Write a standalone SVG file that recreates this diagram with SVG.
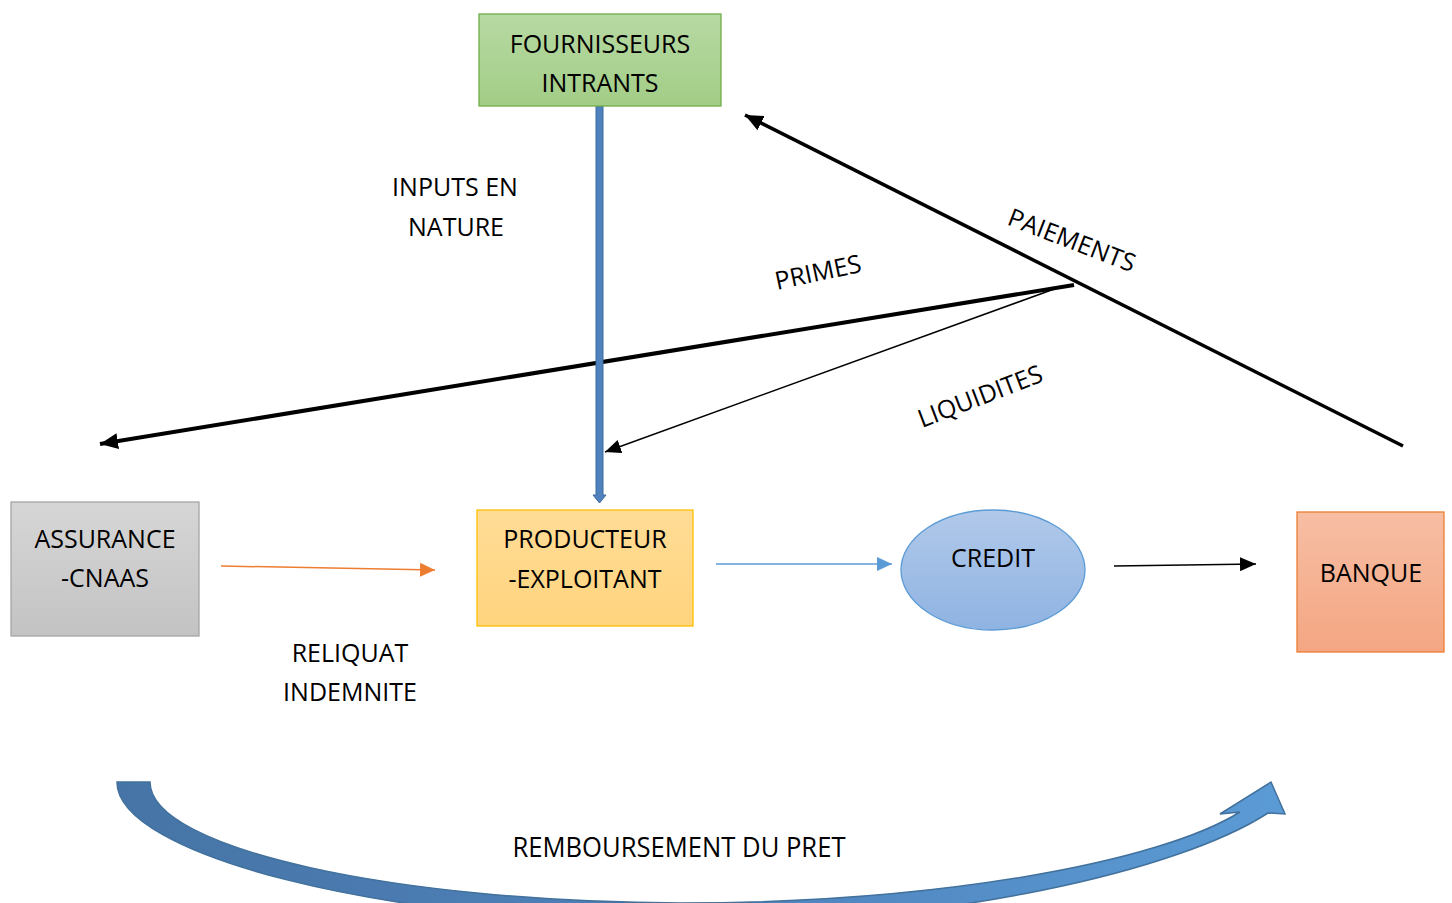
<svg xmlns="http://www.w3.org/2000/svg" width="1452" height="903" viewBox="0 0 1452 903">
<defs>
<linearGradient id="gGreen" x1="0" y1="0" x2="0" y2="1"><stop offset="0" stop-color="#b7d9a3"/><stop offset="1" stop-color="#a2cd86"/></linearGradient>
<linearGradient id="gGray" x1="0" y1="0" x2="0" y2="1"><stop offset="0" stop-color="#d6d6d6"/><stop offset="1" stop-color="#c3c3c3"/></linearGradient>
<linearGradient id="gYellow" x1="0" y1="0" x2="0" y2="1"><stop offset="0" stop-color="#ffdc96"/><stop offset="1" stop-color="#ffd47e"/></linearGradient>
<linearGradient id="gBlue" x1="0" y1="0" x2="0" y2="1"><stop offset="0" stop-color="#b1c9ea"/><stop offset="1" stop-color="#8fb3e2"/></linearGradient>
<linearGradient id="gOrange" x1="0" y1="0" x2="0" y2="1"><stop offset="0" stop-color="#f7bea4"/><stop offset="1" stop-color="#f4a682"/></linearGradient>
<linearGradient id="gCurve" x1="0" y1="0" x2="1" y2="0"><stop offset="0" stop-color="#4674a6"/><stop offset="0.5" stop-color="#4f82bb"/><stop offset="1" stop-color="#5b9bd5"/></linearGradient>
<marker id="aBlack" markerUnits="userSpaceOnUse" markerWidth="20" markerHeight="16" refX="18" refY="8" orient="auto"><path d="M0,0 L18,8 L0,16 Z" fill="#000"/></marker>
<marker id="aBlackS" markerUnits="userSpaceOnUse" markerWidth="18" markerHeight="14" refX="16" refY="7" orient="auto"><path d="M0,0 L16,7 L0,14 Z" fill="#000"/></marker>
<marker id="aOrange" markerUnits="userSpaceOnUse" markerWidth="16" markerHeight="14" refX="15" refY="7" orient="auto"><path d="M0,0 L15,7 L0,14 Z" fill="#ed7d31"/></marker>
<marker id="aBlueS" markerUnits="userSpaceOnUse" markerWidth="16" markerHeight="14" refX="15" refY="7" orient="auto"><path d="M0,0 L15,7 L0,14 Z" fill="#5b9bd5"/></marker>
</defs>
<style>
text{font-family:"Open Sans","Liberation Sans",sans-serif;font-size:25px;fill:#000;text-anchor:middle}
.box{stroke-width:1.3}
</style>

<g id="connectors">
<path d="M1403,446 L745,115" stroke="#000" stroke-width="3.5" fill="none" marker-end="url(#aBlack)"/>
<path d="M1074,285 L100,444" stroke="#000" stroke-width="4" fill="none" marker-end="url(#aBlack)"/>
<path d="M1057,288 L605,452" stroke="#000" stroke-width="1.5" fill="none" marker-end="url(#aBlackS)"/>
<path d="M221,566 L435,570" stroke="#ed7d31" stroke-width="1.5" fill="none" marker-end="url(#aOrange)"/>
<path d="M716,564 L892,564" stroke="#5b9bd5" stroke-width="1.5" fill="none" marker-end="url(#aBlueS)"/>
<path d="M1114,566 L1256,564" stroke="#000" stroke-width="1.5" fill="none" marker-end="url(#aBlackS)"/>
<path d="M596,106 L603,106 L603,495 L606,495 L599.5,503 L593,495 L596,495 Z" fill="#4f81bd" stroke="#3b6a9f" stroke-width="1"/>
<path d="M117,782 C117,855 380,922 680,924 C950,925 1180,870 1268,813 L1285,814 L1271,782 L1220,814 L1240,812 C1160,862 940,903 680,903 C400,902 150,850 150,782 Z" fill="url(#gCurve)" stroke="#41719c" stroke-width="1.5"/>
</g>

<g id="fournisseurs">
<rect class="box" x="479" y="14" width="242" height="92" fill="url(#gGreen)" stroke="#70ad47"/>
<text x="600" y="53">FOURNISSEURS</text>
<text x="600" y="92">INTRANTS</text>
</g>

<g id="assurance">
<rect class="box" x="11" y="502" width="188" height="134" fill="url(#gGray)" stroke="#a5a5a5"/>
<text x="105" y="548">ASSURANCE</text>
<text x="105" y="587">-CNAAS</text>
</g>

<g id="producteur">
<rect class="box" x="477" y="510" width="216" height="116" fill="url(#gYellow)" stroke="#ffc000"/>
<text x="585" y="548">PRODUCTEUR</text>
<text x="585" y="588">-EXPLOITANT</text>
</g>

<g id="credit">
<ellipse class="box" cx="993" cy="570" rx="92" ry="60" fill="url(#gBlue)" stroke="#5b9bd5"/>
<text x="993" y="567">CREDIT</text>
</g>

<g id="banque">
<rect class="box" x="1297" y="512" width="147" height="140" fill="url(#gOrange)" stroke="#ed7d31"/>
<text x="1371" y="582">BANQUE</text>
</g>

<g id="labels">
<text x="455" y="196">INPUTS EN</text>
<text x="456" y="236">NATURE</text>
<text x="350" y="662">RELIQUAT</text>
<text x="350" y="701">INDEMNITE</text>
<text transform="translate(818,272) rotate(-12)" x="0" y="9">PRIMES</text>
<text transform="translate(1072,240) rotate(21)" x="0" y="9">PAIEMENTS</text>
<text transform="translate(980,396) rotate(-21)" x="0" y="9">LIQUIDITES</text>
<text x="679" y="857" style="font-size:27px" textLength="333" lengthAdjust="spacingAndGlyphs">REMBOURSEMENT DU PRET</text>
</g>
</svg>
